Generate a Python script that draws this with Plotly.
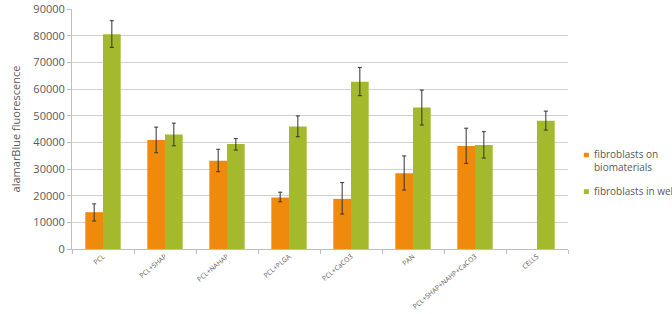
import plotly.graph_objects as go

categories = ["PCL", "PCL+SHAP", "PCL+NAHAP", "PCL+PLGA", "PCL+CaCO3", "PAN",
              "PCL+SHAP+NAHP+CaCO3", "CELLS"]
bio_values = [13800, 40900, 33100, 19300, 18800, 28400, 38600, None]
bio_err_plus = [3100, 4800, 4300, 2000, 6100, 6500, 6700, 0]
bio_err_minus = [3300, 4800, 4100, 1600, 5700, 6300, 6500, 0]
well_values = [80500, 42900, 39400, 45900, 62700, 53100, 39000, 48100]
well_err_plus = [5100, 4300, 2000, 4000, 5400, 6500, 5000, 3600]
well_err_minus = [4900, 4200, 2300, 3800, 5200, 6600, 4900, 3500]
series_names = ["fibroblasts on<br>biomaterials", "fibroblasts in wells"]

font_family = "Open Sans, Noto Sans, sans-serif"
grey = "#595959"
orange = "#EF8A0D"
green = "#A5B92C"

fig = go.Figure()
fig.add_trace(go.Bar(
    x=categories, y=bio_values, name=series_names[0],
    marker=dict(color=orange, line=dict(width=0)),
    error_y=dict(type="data", symmetric=False, array=bio_err_plus,
                 arrayminus=bio_err_minus, color="#333333", thickness=1, width=2),
))
fig.add_trace(go.Bar(
    x=categories, y=well_values, name=series_names[1],
    marker=dict(color=green, line=dict(width=0)),
    error_y=dict(type="data", symmetric=False, array=well_err_plus,
                 arrayminus=well_err_minus, color="#333333", thickness=1, width=2),
))

# legend drawn as annotations with small square swatches (as in the reference)
legend_items = [(series_names[0], orange, 0.367, 0.382, 0.401),
                (series_names[1], green, 0.242, 0.229, 0.249)]
for name, col, ytxt, y0, y1 in legend_items:
    fig.add_shape(type="rect", xref="paper", yref="paper",
                  x0=1.032, x1=1.042, y0=y0, y1=y1,
                  fillcolor=col, line=dict(width=0))
    fig.add_annotation(text=name, xref="paper", yref="paper", x=1.048, y=ytxt,
                       xanchor="left", yanchor="middle", align="left",
                       showarrow=False, font=dict(size=10, color=grey))

fig.update_layout(
    width=672, height=314,
    margin=dict(l=72, r=104, t=9, b=65, autoexpand=False),
    paper_bgcolor="white", plot_bgcolor="white",
    barmode="group", bargap=0.43, bargroupgap=0,
    font=dict(family=font_family, color=grey, size=11),
    showlegend=False,
    xaxis=dict(type="category", tickangle=-40, tickfont=dict(size=6.8, color=grey),
               showline=True, linecolor="#bfbfbf", linewidth=1, automargin=False,
               ticks="outside", tickson="boundaries", ticklen=4, tickcolor="#bfbfbf",
               showgrid=False),
    yaxis=dict(range=[0, 90000], dtick=10000, tickformat="d", automargin=False,
               showgrid=True, gridcolor="#d0d0d0", gridwidth=1,
               showline=True, linecolor="#bfbfbf", linewidth=1,
               ticks="outside", ticklen=4, tickcolor="#bfbfbf",
               tickfont=dict(size=11, color=grey), zeroline=False,
               title=dict(text="alamarBlue fluorescence", font=dict(size=11, color=grey),
                          standoff=10)),
)

fig.write_html("out.html")
